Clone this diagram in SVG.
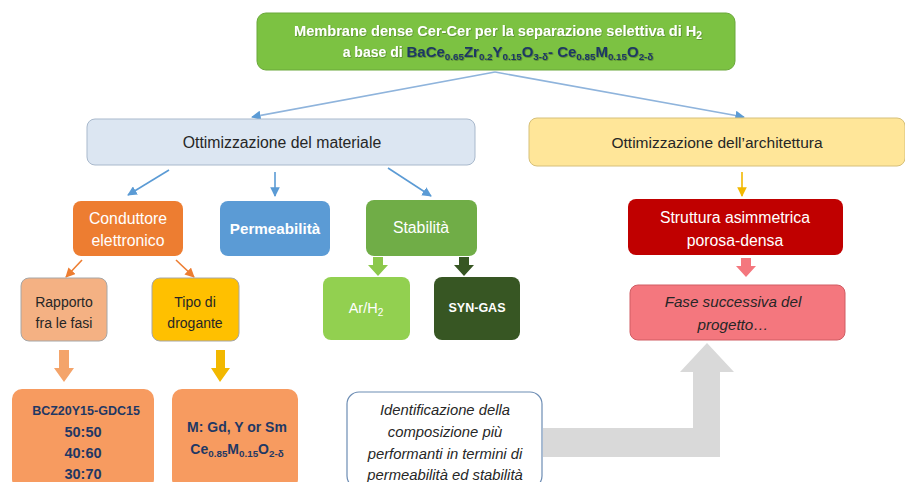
<svg xmlns="http://www.w3.org/2000/svg" width="905" height="482" viewBox="0 0 905 482">
  <style>
    text { font-family: "Liberation Sans", Arial, sans-serif; text-anchor: middle; }
    .w { fill: #ffffff; }
    .d { fill: #262626; }
    .navy { fill: #1f3864; font-weight: bold; }
    .b { font-weight: bold; }
    .it { font-style: italic; }
    .sub { font-size: 70%; }
    .thin { fill: none; stroke-width: 1.6; }
  </style>
  <defs>
    <marker id="ahBlue" viewBox="0 0 10 10" refX="9" refY="5" markerWidth="6" markerHeight="6" orient="auto">
      <path d="M0,0 L10,5 L0,10 z" fill="#5b9bd5"/>
    </marker>
    <marker id="ahOrange" viewBox="0 0 10 10" refX="9" refY="5" markerWidth="6" markerHeight="6" orient="auto">
      <path d="M0,0 L10,5 L0,10 z" fill="#ed7d31"/>
    </marker>
    <marker id="ahYellow" viewBox="0 0 10 10" refX="9" refY="5" markerWidth="6" markerHeight="6" orient="auto">
      <path d="M0,0 L10,5 L0,10 z" fill="#f2b800"/>
    </marker>
    <filter id="ts" x="-5%" y="-20%" width="110%" height="140%">
      <feDropShadow dx="0.7" dy="0.7" stdDeviation="0.5" flood-color="#000" flood-opacity="0.35"/>
    </filter>
  </defs>

  <rect width="905" height="482" fill="#ffffff"/>

  <!-- connectors -->
  <g id="connectors">
    <path class="thin" d="M495,72 L252,117" stroke="#8fb4dc" marker-end="url(#ahBlue)"/>
    <path class="thin" d="M495,72 L744,117" stroke="#8fb4dc" marker-end="url(#ahBlue)"/>
    <path class="thin" d="M169,170 L128,195" stroke="#5b9bd5" marker-end="url(#ahBlue)"/>
    <path class="thin" d="M275,172 L275,196" stroke="#5b9bd5" marker-end="url(#ahBlue)"/>
    <path class="thin" d="M388,168 L431,196" stroke="#5b9bd5" marker-end="url(#ahBlue)"/>
    <path class="thin" d="M742,172 L742,196" stroke="#f2b800" marker-end="url(#ahYellow)"/>
    <path class="thin" d="M82,260 L66,277" stroke="#ed7d31" marker-end="url(#ahOrange)"/>
    <path class="thin" d="M176,260 L194,277" stroke="#ed7d31" marker-end="url(#ahOrange)"/>
    <!-- block arrows -->
    <path d="M59,350 H69 V368 H74 L64,382 L54,368 H59 Z" fill="#f4a46a"/>
    <path d="M216,350 H225 V368 H230 L220,382 L211,368 H216 Z" fill="#f2b800"/>
    <path d="M373,257 H383 V265 H388 L378,276 L368,265 H373 Z" fill="#8cc84b"/>
    <path d="M459,257 H469 V265 H474 L464,276 L454,265 H459 Z" fill="#375623"/>
    <path d="M741,258 H751 V266 H756 L746,277 L736,266 H741 Z" fill="#f4777e"/>
    <path d="M543,428 H693 V372 H680 L707,343 L734,372 H720 V457 H543 Z" fill="#d9d9d9"/>
  </g>

  <!-- top node -->
  <g id="n-top">
    <rect x="257" y="13" width="478" height="57" rx="9" fill="#7cc242" stroke="#6aa83a" stroke-width="1"/>
    <g filter="url(#ts)" class="b">
      <text x="498" y="36" class="w" font-size="14.6">Membrane dense Cer-Cer per la separazione selettiva di H<tspan class="sub" dy="3">2</tspan></text>
      <text x="498" y="57" class="w" font-size="14">a base di <tspan class="navy" font-size="15">BaCe</tspan><tspan class="navy sub" dy="3">0.65</tspan><tspan class="navy" font-size="15" dy="-3">Zr</tspan><tspan class="navy sub" dy="3">0.2</tspan><tspan class="navy" font-size="15" dy="-3">Y</tspan><tspan class="navy sub" dy="3">0.15</tspan><tspan class="navy" font-size="15" dy="-3">O</tspan><tspan class="navy sub" dy="3">3-δ</tspan><tspan class="navy" font-size="15" dy="-3">- Ce</tspan><tspan class="navy sub" dy="3">0.85</tspan><tspan class="navy" font-size="15" dy="-3">M</tspan><tspan class="navy sub" dy="3">0.15</tspan><tspan class="navy" font-size="15" dy="-3">O</tspan><tspan class="navy sub" dy="3">2-δ</tspan></text>
    </g>
  </g>

  <g id="n-materiale">
    <rect x="87" y="119" width="388" height="46" rx="8" fill="#dce6f2" stroke="#a9b9cc" stroke-width="1"/>
    <text x="282" y="148" class="d" font-size="15.8">Ottimizzazione del materiale</text>
  </g>

  <g id="n-architettura">
    <rect x="529" y="118" width="376" height="48" rx="8" fill="#ffe699" stroke="#d6c07a" stroke-width="1"/>
    <text x="717" y="148" class="d" font-size="15.5">Ottimizzazione dell’architettura</text>
  </g>

  <g id="n-conduttore">
    <rect x="73" y="201" width="110" height="55" rx="8" fill="#ed7d31"/>
    <text x="128" y="224" class="w" font-size="15.8">Conduttore</text>
    <text x="128" y="246" class="w" font-size="15.8">elettronico</text>
  </g>

  <g id="n-permeabilita">
    <rect x="220" y="201" width="110" height="55" rx="8" fill="#5b9bd5"/>
    <text x="275" y="234" class="w b" font-size="15.2">Permeabilità</text>
  </g>

  <g id="n-stabilita">
    <rect x="366" y="200" width="111" height="56" rx="8" fill="#70ad47"/>
    <text x="421" y="233" class="w" font-size="15.8">Stabilità</text>
  </g>

  <g id="n-struttura">
    <rect x="628" y="199" width="215" height="56" rx="8" fill="#c00000"/>
    <text x="735" y="223" class="w" font-size="15.8">Struttura asimmetrica</text>
    <text x="735" y="246" class="w" font-size="15.8">porosa-densa</text>
  </g>

  <g id="n-fase">
    <rect x="630" y="285" width="215" height="55" rx="8" fill="#f4777e" stroke="#d05c63" stroke-width="1"/>
    <text x="733" y="307" class="d it" font-size="15.2">Fase successiva del</text>
    <text x="733" y="330" class="d it" font-size="15.2">progetto…</text>
  </g>

  <g id="n-rapporto">
    <rect x="21" y="278" width="86" height="63" rx="8" fill="#f4b183" stroke="#a6a6a6" stroke-width="1"/>
    <text x="64" y="307" class="d" font-size="14">Rapporto</text>
    <text x="64" y="328" class="d" font-size="14">fra le fasi</text>
  </g>

  <g id="n-tipo">
    <rect x="152" y="278" width="87" height="63" rx="8" fill="#ffc000" stroke="#a6a6a6" stroke-width="1"/>
    <text x="195" y="307" class="d" font-size="14">Tipo di</text>
    <text x="195" y="328" class="d" font-size="14">drogante</text>
  </g>

  <g id="n-arh2">
    <rect x="323" y="277" width="87" height="63" rx="8" fill="#92d050"/>
    <text x="366" y="313" class="w" font-size="14.5">Ar/H<tspan class="sub" dy="3">2</tspan></text>
  </g>

  <g id="n-syngas">
    <rect x="434" y="277" width="86" height="63" rx="8" fill="#375623"/>
    <text x="477" y="312" class="w b" font-size="12.5">SYN-GAS</text>
  </g>

  <g id="n-bcz">
    <rect x="12" y="389" width="142" height="100" rx="10" fill="#f79b60"/>
    <text x="86" y="415" class="navy" font-size="12.5">BCZ20Y15-GDC15</text>
    <text x="83" y="437" class="navy" font-size="14.5">50:50</text>
    <text x="83" y="458" class="navy" font-size="14.5">40:60</text>
    <text x="83" y="479" class="navy" font-size="14.5">30:70</text>
  </g>

  <g id="n-dopant">
    <rect x="172" y="389" width="126" height="100" rx="10" fill="#f79b60"/>
    <text x="237" y="432" class="navy" font-size="14">M: Gd, Y or Sm</text>
    <text x="237" y="454" class="navy" font-size="14">Ce<tspan class="sub" dy="3">0.85</tspan><tspan dy="-3">M</tspan><tspan class="sub" dy="3">0.15</tspan><tspan dy="-3">O</tspan><tspan class="sub" dy="3">2-δ</tspan></text>
  </g>

  <g id="n-identificazione">
    <rect x="347" y="392" width="195" height="96" rx="12" fill="#ffffff" stroke="#6d8db4" stroke-width="1.2"/>
    <text x="445" y="415" class="d it" font-size="14.8">Identificazione della</text>
    <text x="445" y="437" class="d it" font-size="14.8">composizione più</text>
    <text x="445" y="459" class="d it" font-size="14.8">performanti in termini di</text>
    <text x="445" y="480" class="d it" font-size="14.8">permeabilità ed stabilità</text>
  </g>
</svg>
